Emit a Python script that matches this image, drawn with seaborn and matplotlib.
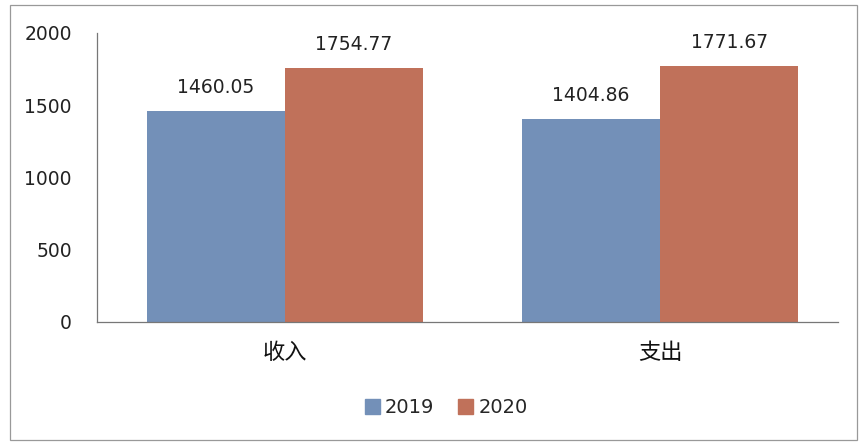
import pandas as pd
import seaborn as sns
import matplotlib.pyplot as plt
from matplotlib.patches import Rectangle

categories = ['收入', '支出']
years = ['2019', '2020']
values_2019 = [1460.05, 1404.86]
values_2020 = [1754.77, 1771.67]
y_ticks = [0, 500, 1000, 1500, 2000]

df = pd.DataFrame({
    'cat': categories * 2,
    'year': [years[0]] * 2 + [years[1]] * 2,
    'value': values_2019 + values_2020,
})

sns.set_style('white')
plt.rcParams['font.family'] = ['Noto Sans CJK SC', 'DejaVu Sans']

fig = plt.figure(figsize=(8.66, 4.44), dpi=100)
ax = fig.add_axes([0.112, 0.275, 0.856, 0.651])

sns.barplot(data=df, x='cat', y='value', hue='year', hue_order=years,
            palette=['#7390b8', '#c0715a'], width=0.736, gap=0,
            saturation=1, linewidth=0, ax=ax, legend=False)

for cont in ax.containers:
    ax.bar_label(cont, labels=[f'{v:.2f}' for v in cont.datavalues],
                 padding=10, fontsize=13.5, color='#222222',
                 family='DejaVu Sans')

ax.set_ylim(0, 2000)
ax.set_xlim(-0.5, 1.475)
ax.set_yticks(y_ticks)
ax.set_yticklabels([str(t) for t in y_ticks], family='DejaVu Sans')
ax.tick_params(axis='y', length=0, pad=18, labelsize=13.5, labelcolor='#222222')
ax.tick_params(axis='x', length=0, pad=14, labelsize=16, labelcolor='#111111')
ax.set_xlabel('')
ax.set_ylabel('')
for s in ['top', 'right']:
    ax.spines[s].set_visible(False)
for s in ['left', 'bottom']:
    ax.spines[s].set_color('#777777')
    ax.spines[s].set_linewidth(0.9)

# legend
handles = [Rectangle((0, 0), 1, 1, color=c) for c in ['#7390b8', '#c0715a']]
fig.legend(handles, years, loc='center', bbox_to_anchor=(0.515, 0.082),
           ncol=2, frameon=False, handlelength=0.8, handleheight=0.8,
           handletextpad=0.25, columnspacing=1.2,
           prop={'family': 'DejaVu Sans', 'size': 14})

# outer frame
fig.patches.append(Rectangle((0.012, 0.01), 0.978, 0.978, transform=fig.transFigure,
                             fill=False, edgecolor='#999999', linewidth=0.9))

fig.savefig('out.png', dpi=100)
